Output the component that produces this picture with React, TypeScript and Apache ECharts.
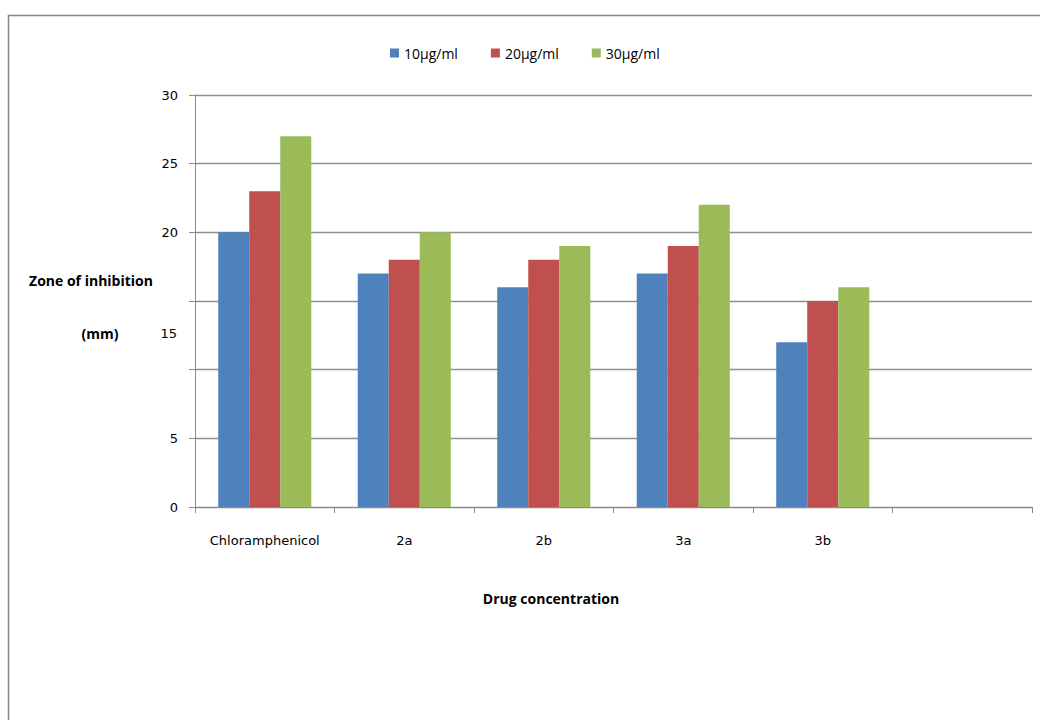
import React, { useEffect, useRef } from "react";
import * as echarts from "echarts";

const categories = ["Chloramphenicol", "2a", "2b", "3a", "3b", ""];
const seriesNames = ["10μg/ml", "20μg/ml", "30μg/ml"];
const values10 = [20, 17, 16, 17, 12, null];
const values20 = [23, 18, 18, 19, 15, null];
const values30 = [27, 20, 19, 22, 16, null];
const colors = ["#4F81BD", "#C0504D", "#9BBB59"];
const hiddenTicks = [10, 15];

export default function App() {
  const ref = useRef<HTMLDivElement>(null);
  useEffect(() => {
    if (!ref.current) return;
    const chart = echarts.init(ref.current, null, { renderer: "svg" });
    const font = "DejaVu Sans";
    const data = [values10, values20, values30];
    chart.setOption({
      animation: false,
      backgroundColor: "#ffffff",
      textStyle: { fontFamily: font },
      legend: {
        left: 385,
        top: 41,
        itemWidth: 9,
        itemHeight: 9,
        itemGap: 33,
        icon: "rect",
        textStyle: { fontSize: 14, color: "#000", fontFamily: "Open Sans" },
        data: seriesNames,
      },
      grid: { left: 195, top: 95, right: 8, bottom: 213, containLabel: false },
      xAxis: {
        type: "category",
        data: categories,
        axisLine: { lineStyle: { color: "#8a8a8a", width: 1 } },
        axisTick: { show: true, length: 6, interval: 0, lineStyle: { color: "#8a8a8a" } },
        axisLabel: { color: "#000", fontSize: 13, margin: 27, interval: 0, fontFamily: font },
      },
      yAxis: {
        type: "value",
        min: 0,
        max: 30,
        interval: 5,
        axisLine: { show: true, lineStyle: { color: "#8a8a8a", width: 1 } },
        axisTick: { show: true, length: 6, lineStyle: { color: "#8a8a8a" } },
        splitLine: { lineStyle: { color: "#8f8f8f", width: 1.3 } },
        axisLabel: {
          color: "#000",
          fontSize: 13,
          margin: 17,
          fontFamily: font,
          formatter: (v: number) => (hiddenTicks.includes(v) ? "" : String(v)),
        },
      },
      series: seriesNames.map((name, i) => ({
        name,
        type: "bar",
        data: data[i],
        barGap: "0%",
        barCategoryGap: "33.3%",
        itemStyle: { color: colors[i] },
      })),
      graphic: [
        {
          type: "rect",
          shape: { x: 8.5, y: 15.5, width: 1200, height: 900 },
          style: { fill: "none", stroke: "#858585", lineWidth: 1.5 },
          silent: true,
        },
        {
          type: "text",
          x: 91,
          y: 280,
          style: {
            text: "Zone of inhibition",
            font: "bold 14px 'Open Sans', sans-serif",
            fill: "#000",
            align: "center",
            verticalAlign: "middle",
          },
        },
        {
          type: "text",
          x: 100,
          y: 333,
          style: {
            text: "(mm)",
            font: "bold 14px 'Open Sans', sans-serif",
            fill: "#000",
            align: "center",
            verticalAlign: "middle",
          },
        },
        {
          type: "text",
          x: 177,
          y: 333,
          style: {
            text: "15",
            font: "13px 'DejaVu Sans', sans-serif",
            fill: "#000",
            align: "right",
            verticalAlign: "middle",
          },
        },
        {
          type: "text",
          x: 551,
          y: 598,
          style: {
            text: "Drug concentration",
            font: "bold 14px 'Open Sans', sans-serif",
            fill: "#000",
            align: "center",
            verticalAlign: "middle",
          },
        },
      ],
    });
    return () => chart.dispose();
  }, []);
  return (
    <div
      ref={ref}
      style={{ position: "fixed", left: 0, top: 0, width: 1040, height: 720 }}
    />
  );
}
